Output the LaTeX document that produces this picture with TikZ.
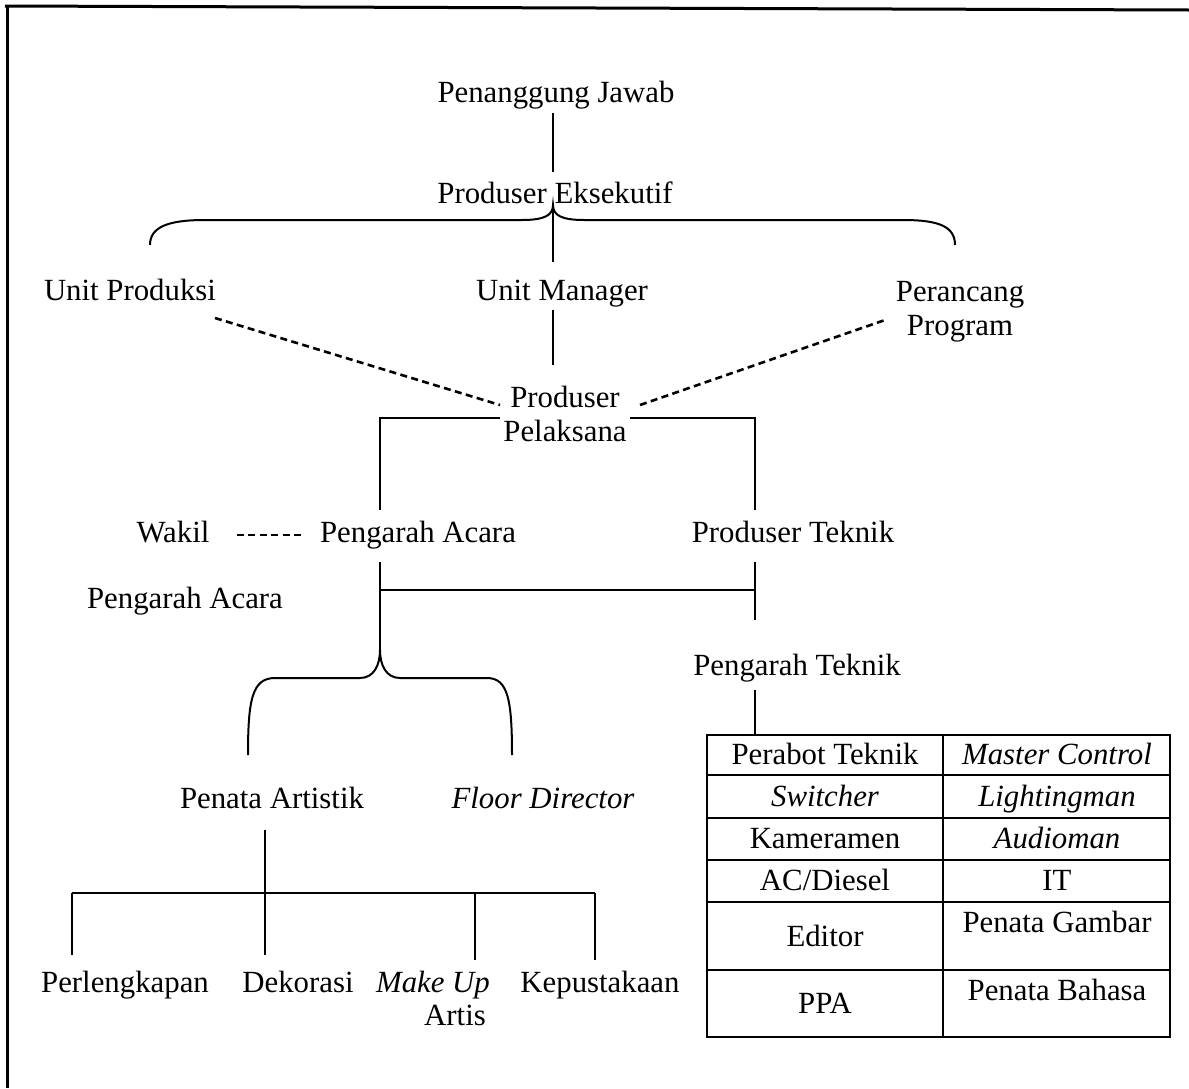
\documentclass[tikz,border=0pt]{standalone}
\usepackage{fontspec}
\setmainfont{Liberation Serif}
\tikzset{
  lbl/.style={inner sep=3.5pt, font=\fontsize{15.4pt}{17pt}\selectfont, text height=10.5pt, text depth=3.3pt, yshift=-1.4pt},
  lbltwo/.style={inner sep=3.5pt, font=\fontsize{15.4pt}{17pt}\selectfont, align=center},
  conn/.style={line width=1pt, line cap=butt},
  dashconn/.style={line width=1.3pt, dash pattern=on 3.5pt off 2.2pt},
  frameline/.style={line width=1.5pt},
  tabline/.style={line width=0.9pt}
}
\begin{document}
\begin{tikzpicture}[x=0.5pt,y=-0.5pt]
\useasboundingbox (0,0) rectangle (1189,1088);
% frame
\draw[frameline] (5,6) -- (1189,10);
\draw[frameline] (7,6) -- (7,1088);

% nodes
\node[lbl] (pj) at (556,92) {Penanggung Jawab};
\node[lbl] (pe) at (555,193) {Produser Eksekutif};
\node[lbl] (up) at (130,290) {Unit Produksi};
\node[lbl] (um) at (562,290) {Unit Manager};
\node[lbltwo] (pp) at (960,312) {Perancang\\Program};
\node[lbltwo] (ppl) at (565,414) {Produser\\Pelaksana};
\node[lbl] (wk) at (173,532) {Wakil};
\node[lbl] (pa) at (418,532) {Pengarah Acara};
\node[lbl] (wpa) at (185,598) {Pengarah Acara};
\node[lbl] (pt) at (793,532) {Produser Teknik};
\node[lbl] (ptk) at (797,665) {Pengarah Teknik};
\node[lbl] (pna) at (272,798) {Penata Artistik};
\node[lbl] (fd) at (543,798) {\itshape Floor Director};
\node[lbl] (perl) at (125,982) {Perlengkapan};
\node[lbl] (dek) at (298,982) {Dekorasi};
\node[lbl] (mu) at (433,982) {\itshape Make Up};
\node[lbl] (art) at (455,1015) {Artis};
\node[lbl] (kep) at (600,982) {Kepustakaan};

% coordinates
\coordinate (b1tip) at (553,205);
\coordinate (b2tip) at (380,650);
\coordinate (d1a) at (215,318);
\coordinate (d1b) at (500,405);
\coordinate (d2a) at (640,405);
\coordinate (d2b) at (885,320);
\coordinate (brL) at (380,418);
\coordinate (brR) at (755,418);
\coordinate (hA) at (380,590);
\coordinate (hB) at (755,590);
\coordinate (hC) at (72,893);
\coordinate (hD) at (595,893);
\coordinate (tabtop) at (755,735);

% connectors
\draw[conn] (553,113) -- (553,172);
\draw[conn] (150,245) .. controls (150,227) and (168,220) .. (205,220) -- (522,220)
  .. controls (545,220) and (553,215) .. (b1tip)
  .. controls (553,215) and (561,220) .. (584,220) -- (903,220)
  .. controls (940,220) and (955,227) .. (955,245);
\draw[conn] (b1tip) -- (553,262);
\draw[conn] (553,310) -- (553,365);
\draw[dashconn] (d1a) -- (d1b);
\draw[dashconn] (d2a) -- (d2b);
\draw[conn] (500,418) -- (brL) -- (380,510);
\draw[conn] (630,418) -- (brR) -- (755,510);
\draw[dashconn] (237,535) -- (305,535);
\draw[conn] (380,562) -- (b2tip);
\draw[conn] (hA) -- (hB);
\draw[conn] (755,562) -- (755,620);
\draw[conn] (755,690) -- (tabtop);
\draw[conn] (248,755) .. controls (248,700) and (252,678) .. (275,678) -- (360,678)
  .. controls (374,678) and (380,665) .. (b2tip)
  .. controls (380,665) and (386,678) .. (400,678) -- (487,678)
  .. controls (508,678) and (512,700) .. (512,755);
\draw[conn] (265,830) -- (265,955);
\draw[conn] (hC) -- (hD);
\draw[conn] (hC) -- (72,955);
\draw[conn] (475,893) -- (475,960);
\draw[conn] (hD) -- (595,960);

% table
\draw[tabline] (707,735) rectangle (1170,1037);
\draw[tabline] (943,735) -- (943,1037);
\foreach \yy in {775,818,860,902,970} \draw[tabline] (707,\yy) -- (1170,\yy);
\node[lbl] (t11) at (825,754) {Perabot Teknik};
\node[lbl] (t12) at (1057,754) {\itshape Master Control};
\node[lbl] (t21) at (825,796) {\itshape Switcher};
\node[lbl] (t22) at (1057,796) {\itshape Lightingman};
\node[lbl] (t31) at (825,838) {Kameramen};
\node[lbl] (t32) at (1057,838) {\itshape Audioman};
\node[lbl] (t41) at (825,880) {AC/Diesel};
\node[lbl] (t42) at (1057,880) {IT};
\node[lbl] (t51) at (825,936) {Editor};
\node[lbl] (t52) at (1057,922) {Penata Gambar};
\node[lbl] (t61) at (825,1003) {PPA};
\node[lbl] (t62) at (1057,990) {Penata Bahasa};
\end{tikzpicture}
\end{document}
